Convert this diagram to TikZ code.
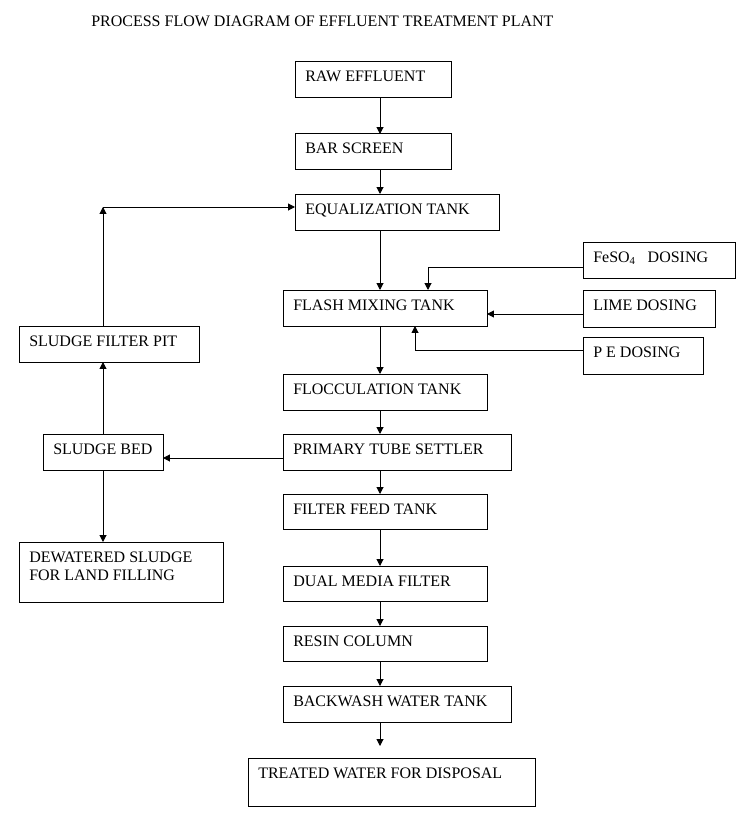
\documentclass[tikz,border=0pt]{standalone}
\usepackage{fontspec}
\setmainfont{Liberation Serif}
\usetikzlibrary{arrows.meta}
\tikzset{
  box/.style={draw, line width=0.75pt, inner sep=0pt, outer sep=0pt},
  lbl/.style={font=\fontsize{12pt}{13.5pt}\selectfont, inner sep=0pt, align=left},
  arr/.style={line width=0.75pt, -{Triangle[length=5.2pt,width=5.2pt]}}
}
\newcommand\pfbox[6]{%
  \node[box, minimum width=#4*0.75pt, minimum height=#5*0.75pt, anchor=north west] (#1) at (#2,#3) {};
  \node[lbl, anchor=base west] (#1t) at ([xshift=7.5pt,yshift=-15pt]#1.north west) {#6};}
\begin{document}
\begin{tikzpicture}[x=0.75pt,y=-0.75pt]
\useasboundingbox (0,0) rectangle (739,820);
\node[lbl, anchor=base west] (title) at (91,27) {PROCESS FLOW DIAGRAM OF EFFLUENT TREATMENT PLANT};
\pfbox{raw}{295}{62}{156}{36}{RAW EFFLUENT}
\pfbox{bar}{295}{134}{156}{35}{BAR SCREEN}
\pfbox{eq}{295}{194}{204}{36}{EQUALIZATION TANK}
\pfbox{flash}{283}{290}{204}{36}{FLASH MIXING TANK}
\pfbox{fe}{583}{242}{152}{36}{FeSO\textsubscript{4}\hspace{9pt}DOSING}
\pfbox{lime}{583}{290}{132}{37}{LIME DOSING}
\pfbox{pe}{583}{337}{120}{37}{P E DOSING}
\pfbox{floc}{283}{374}{204}{36}{FLOCCULATION TANK}
\pfbox{pts}{283}{434}{228}{36}{PRIMARY TUBE SETTLER}
\pfbox{fft}{283}{494}{204}{35}{FILTER FEED TANK}
\pfbox{dmf}{283}{566}{204}{35}{DUAL MEDIA FILTER}
\pfbox{resin}{283}{626}{204}{35}{RESIN COLUMN}
\pfbox{bw}{283}{686}{228}{36}{BACKWASH WATER TANK}
\pfbox{tw}{248}{758}{287}{48}{TREATED WATER FOR DISPOSAL}
\pfbox{sfp}{19}{326}{180}{36}{SLUDGE FILTER PIT}
\pfbox{sb}{43}{434}{120}{36}{SLUDGE BED}
\pfbox{dw}{19}{542}{204}{60}{\begin{tabular}[t]{@{}l@{}}DEWATERED SLUDGE\\FOR LAND FILLING\end{tabular}}
% main column
\coordinate (mx) at (380,0);
\coordinate (bwend) at (380,746);
\draw[arr] (raw.south -| mx) -- (bar.north -| mx);
\draw[arr] (bar.south -| mx) -- (eq.north -| mx);
\draw[arr] (eq.south -| mx) -- (flash.north -| mx);
\draw[arr] (flash.south -| mx) -- (floc.north -| mx);
\draw[arr] (floc.south -| mx) -- (pts.north -| mx);
\draw[arr] (pts.south -| mx) -- (fft.north -| mx);
\draw[arr] (fft.south -| mx) -- (dmf.north -| mx);
\draw[arr] (dmf.south -| mx) -- (resin.north -| mx);
\draw[arr] (resin.south -| mx) -- (bw.north -| mx);
\draw[arr] (bw.south -| mx) -- (bwend);
% dosing
\draw[arr] (fe.west |- 0,267) -| (flash.north -| 428,0);
\draw[arr] (lime.west |- 0,314) -- (flash.east |- 0,314);
\draw[arr] (pe.west |- 0,350) -| (flash.south -| 415,0);
% sludge
\coordinate (c) at (103,207);
\draw[arr] (pts.west |- 0,458) -- (sb.east |- 0,458);
\draw[arr] (sb.north -| c) -- (sfp.south -| c);
\draw[arr] (sb.south -| c) -- (dw.north -| c);
\draw[arr] (sfp.north -| c) -- (c);
\draw[arr] (c) -- (eq.west |- c);
\end{tikzpicture}
\end{document}
